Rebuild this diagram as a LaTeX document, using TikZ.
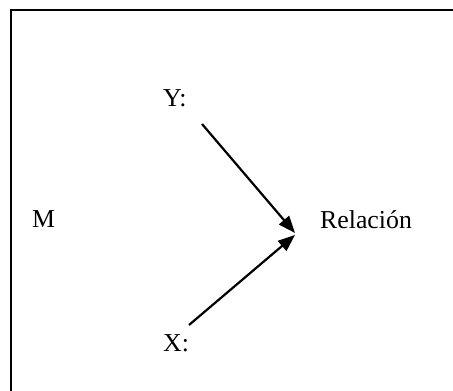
\documentclass[tikz,border=0pt]{standalone}
\usepackage{fontspec}
\setmainfont{Liberation Serif}
\usetikzlibrary{arrows.meta}
\begin{document}
\begin{tikzpicture}[x=1pt,y=1pt,
  lbl/.style={inner sep=0pt,anchor=base west,font=\fontsize{25.8}{30}\selectfont},
  arr/.style={line width=2.2pt,-{Triangle[length=17pt,width=13pt]}},
  frame/.style={line width=1.4pt}]
\useasboundingbox (0,0) rectangle (453,391);
\draw[frame] (11,0) -- (11,381) -- (453,381);
\node[lbl] (y) at (163,284) {Y:};
\node[lbl] (x) at (163,39) {X:};
\node[lbl] (m) at (32,163) {M};
\node[lbl] (rel) at (320,162) {Relación};
\coordinate (ys) at (202,267);
\coordinate (xs) at (189,66);
\coordinate (tipy) at (295,158);
\coordinate (tipx) at (295,156);
\draw[arr] (ys) -- (tipy);
\draw[arr] (xs) -- (tipx);
\end{tikzpicture}
\end{document}
